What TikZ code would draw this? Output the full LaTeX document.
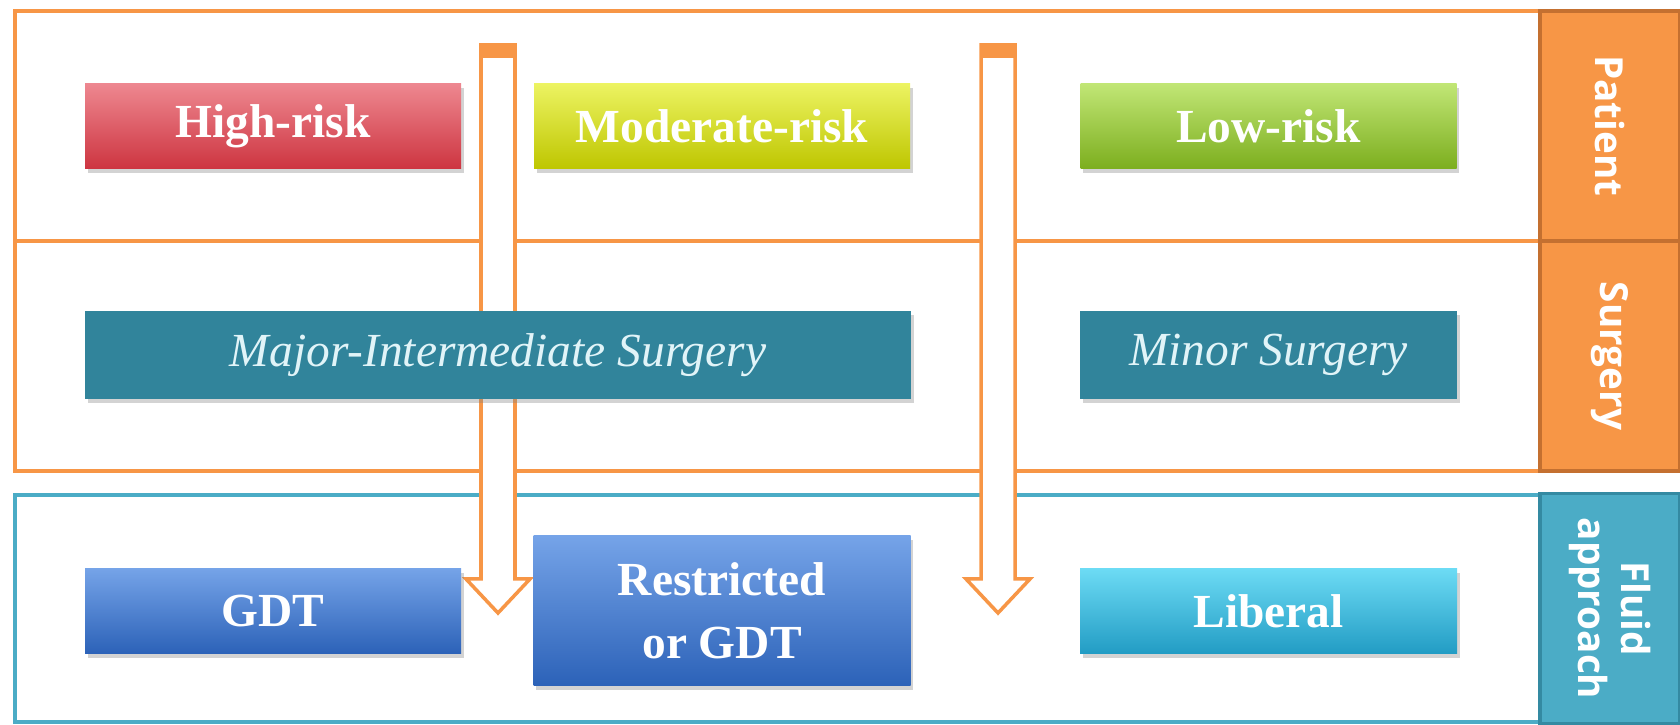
\documentclass[tikz,border=0pt]{standalone}
\usepackage{fontspec}
\setmainfont{Liberation Serif}
\newfontfamily\sidefont{Open Sans}
\usetikzlibrary{shadows}
\definecolor{frameorange}{RGB}{247,150,70}
\definecolor{darkorange}{RGB}{196,112,48}
\definecolor{frameblue}{RGB}{75,172,198}
\definecolor{darkblue}{RGB}{52,138,162}
\definecolor{surgteal}{RGB}{49,132,155}
\definecolor{surgtext}{RGB}{225,244,248}
\definecolor{highred}{RGB}{230,84,96}
\definecolor{highredlow}{RGB}{205,52,64}
\definecolor{modyellow}{RGB}{228,238,30}
\definecolor{modyellowlow}{RGB}{190,198,0}
\definecolor{lowgreen}{RGB}{166,219,58}
\definecolor{lowgreenlow}{RGB}{124,174,30}
\definecolor{gdtblue}{RGB}{58,124,222}
\definecolor{gdtbluelow}{RGB}{44,98,184}
\definecolor{libcyan}{RGB}{46,204,240}
\definecolor{libcyanlow}{RGB}{34,156,196}

\begin{document}
\begin{tikzpicture}
[
box/.style 2 args={minimum width=3.76cm,minimum height=0.85cm,inner sep=2pt,
  top color=#1!70!white,middle color=#1,bottom color=#2,text=white,
  font=\fontsize{13.5}{18}\selectfont\bfseries,align=center,
  drop shadow={shadow xshift=0.8pt,shadow yshift=-1.2pt,opacity=0.35}},
surgbox/.style={fill=surgteal,minimum height=0.88cm,text=surgtext,
  font=\fontsize{13.5}{16}\selectfont\itshape,
  drop shadow={shadow xshift=0.8pt,shadow yshift=-1.2pt,opacity=0.35}},
sidebar/.style 2 args={rotate=-90,minimum width=2.30cm,minimum height=1.40cm,inner sep=0pt,
  fill=#1,draw=#2,line width=1pt,text=white,align=center,
  font=\sidefont\fontsize{11}{12.5}\selectfont\bfseries},
bigarrow/.style={draw=frameorange,fill=white,line width=1pt},
]
\useasboundingbox (0,0) rectangle (16.8,7.25);

%Draw the frames
\draw[frameorange,line width=1pt] (0.15,2.54) rectangle (15.40,7.14);
\draw[frameorange,line width=1pt] (0.15,4.84) -- (15.40,4.84);
\draw[frameblue,line width=1pt] (0.15,0.03) rectangle (15.40,2.30);

%Place the side labels
\node[sidebar={frameorange}{darkorange}] (patient) at (16.10,5.99) {Patient};
\node[sidebar={frameorange}{darkorange}] (surgery) at (16.10,3.69) {Surgery};
\node[sidebar={frameblue}{darkblue}] (fluid) at (16.10,1.165) {Fluid\\approach};

%Draw the arrows
\draw[bigarrow] (4.81,6.80) -- (4.81,1.46) -- (4.66,1.46) -- (4.98,1.12)
  -- (5.30,1.46) -- (5.15,1.46) -- (5.15,6.80) -- cycle;
\fill[frameorange] (4.81,6.80) rectangle (5.15,6.67);
\draw[bigarrow] (9.81,6.80) -- (9.81,1.46) -- (9.66,1.46) -- (9.98,1.12)
  -- (10.30,1.46) -- (10.15,1.46) -- (10.15,6.80) -- cycle;
\fill[frameorange] (9.81,6.80) rectangle (10.15,6.67);

%Place the nodes
\node[box={highred}{highredlow}] (high) at (2.73,5.985) {High-risk};
\node[box={modyellow}{modyellowlow}] (moderate) at (7.22,5.985) {Moderate-risk};
\node[box={lowgreen}{lowgreenlow}] (low) at (12.685,5.985) {Low-risk};
\node[surgbox,minimum width=8.26cm] (major) at (4.98,3.70) {Major-Intermediate Surgery};
\node[surgbox,minimum width=3.77cm] (minor) at (12.685,3.70) {Minor Surgery};
\node[box={gdtblue}{gdtbluelow}] (gdt) at (2.73,1.14) {GDT};
\node[box={gdtblue}{gdtbluelow},minimum width=3.77cm,minimum height=1.50cm] (restricted) at (7.22,1.14) {Restricted\\or GDT};
\node[box={libcyan}{libcyanlow},minimum width=3.77cm] (liberal) at (12.685,1.14) {Liberal};
\end{tikzpicture}
\end{document}
